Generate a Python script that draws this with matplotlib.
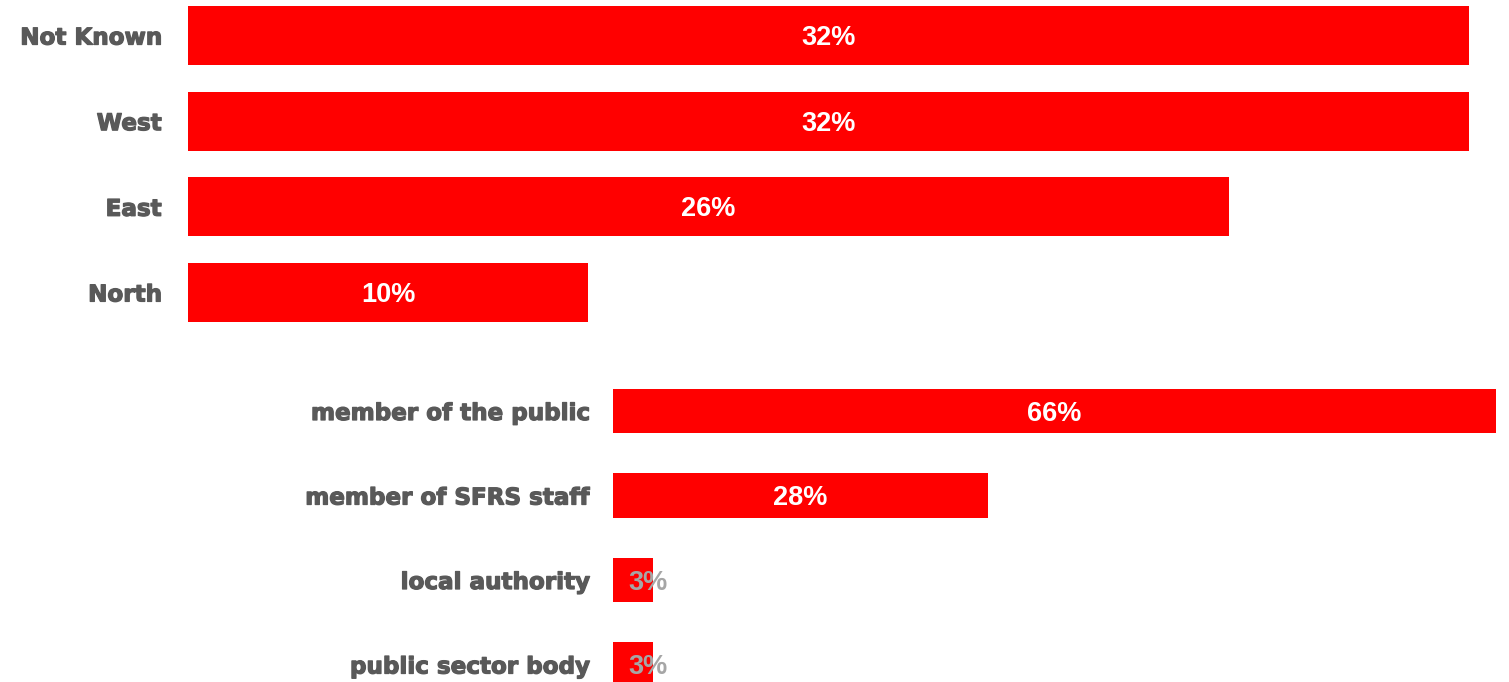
import matplotlib
matplotlib.use("Agg")
import matplotlib.pyplot as plt
import matplotlib.patheffects as pe

# area split
areas = ["Not Known", "West", "East", "North"]
area_pct = [32, 32, 26, 10]

# who reported
sources = ["member of the public", "member of SFRS staff", "local authority", "public sector body"]
source_pct = [66, 28, 3, 3]

RED = "#ff0000"
GREY = "#595959"

fig = plt.figure(figsize=(15.09, 6.82), dpi=100)

ax1 = fig.add_axes([188 / 1509, 0.5084, 1281 / 1509, 0.5023])
ax2 = fig.add_axes([613 / 1509, -0.0363, 883 / 1509, 0.4956])


def draw(ax, names, vals, height, pad):
    ypos = list(range(len(names)))
    ax.barh(ypos, vals, height=height, color=RED)
    ax.set_xlim(0, max(vals))
    ax.set_ylim(len(names) - 0.5, -0.5)
    ax.set_yticks(ypos)
    ax.set_yticklabels(names, fontsize=16.6, fontweight="bold", color=GREY,
                       family="DejaVu Sans")
    for lbl in ax.get_yticklabels():
        lbl.set_path_effects([pe.withStroke(linewidth=0.9, foreground=GREY)])
    ax.tick_params(axis="y", length=0, pad=pad)
    ax.set_xticks([])
    for s in ax.spines.values():
        s.set_visible(False)
    for y, v in zip(ypos, vals):
        # short bars: label spills past the bar end in light grey
        if v > 5:
            col, dx = "white", 0
        else:
            col, dx = "#a6a6a6", 11
        ax.annotate(f"{v}%", (v / 2, y + 0.03), xytext=(dx, 0),
                    textcoords="offset points", ha="center", va="center",
                    fontsize=19.5, fontweight="bold", color=col,
                    family="Liberation Sans")


draw(ax1, areas, area_pct, 0.69, 26.5 * 0.72)
draw(ax2, sources, source_pct, 0.53, 24.5 * 0.72)

fig.savefig("out.png", dpi=100)
